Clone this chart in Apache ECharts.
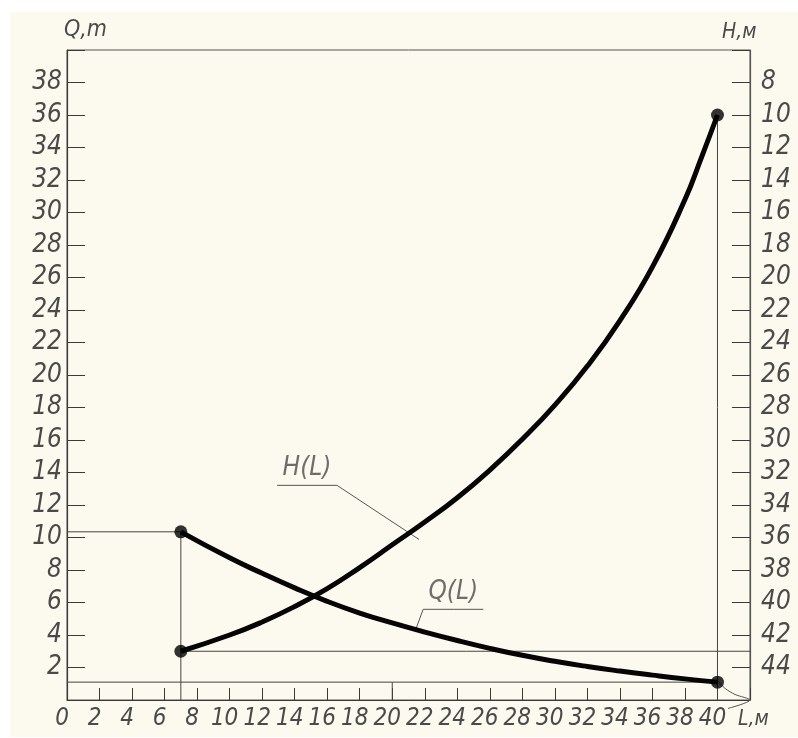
<!DOCTYPE html>
<html><head><meta charset="utf-8">
<script src="https://cdn.jsdelivr.net/npm/echarts@6/dist/echarts.min.js"></script>
<style>
html,body{margin:0;padding:0;background:#fff;}
#bg{position:absolute;left:10px;top:12px;width:788px;height:725px;background:#fcfaee;}
#chart{position:absolute;left:0;top:0;width:798px;height:738px;}
</style></head><body><div id="bg"></div><div id="chart"></div>
<script>
// data
const lH = [7,10,12,14,16,18,20,22,24,26,28,30,32,34,36,38,39,40];
const hValues = [43,42.0,41.2,40.25,39.15,37.85,36.45,35.05,33.55,31.85,29.95,27.85,25.45,22.65,19.35,15.2,12.65,10];
const lQ = [7,10,12,14,16,18,20,22,24,26,28,30,32,34,36,38,40];
const qValues = [10.35,8.75,7.8,6.9,6.07,5.35,4.74,4.18,3.66,3.18,2.75,2.38,2.06,1.78,1.53,1.3,1.1];
const xTickLabels = [0,2,4,6,8,10,12,14,16,18,20,22,24,26,28,30,32,34,36,38,40];
const qTickLabels = [2,4,6,8,10,12,14,16,18,20,22,24,26,28,30,32,34,36,38];
const hTickLabels = [8,10,12,14,16,18,20,22,24,26,28,30,32,34,36,38,40,42,44];
// annotation leader lines (axis units)
const hLabelLeader = [[12.92,13.21],[14.76,13.21],[16.6,13.21],[21.65,9.88]];
const qLabelLeader = [[21.47,4.41],[21.9,5.58],[23.75,5.58],[25.6,5.58]];
const cornerLeader = [[40.04,1.15],[40.47,0.71],[41.08,0.34],[42,0],[40.65,-0.52]];

const FONT = "'Liberation Sans Narrow','DejaVu Sans Condensed',sans-serif";
const TXT = '#4a4a4a';
const AX = '#3a3a3a';
const THIN = '#444';

const zip = (a,b)=>a.map((v,i)=>[v,b[i]]);
const lFirst = lH[0], lLast = lH[lH.length-1];
const hFirst = hValues[0], hLast = hValues[hValues.length-1];
const qFirst = qValues[0], qLast = qValues[qValues.length-1];

function thin(data, yIdx, extra){
  return Object.assign({type:'line', yAxisIndex:yIdx, data:data, symbol:'none', silent:true,
    clip:false, lineStyle:{color:THIN, width:1}, z:3, animation:false}, extra||{});
}
function nameText(text, x, y, size){
  return {type:'text', x:x, y:y, style:{text:text, fontFamily:FONT, fontStyle:'italic', fontSize:size, fill:TXT, verticalAlign:'top', align:'left'}};
}

const chart = echarts.init(document.getElementById('chart'), null, {renderer:'canvas'});
chart.setOption({
  backgroundColor:'transparent',
  animation:false,
  grid:{left:67, right:48, top:50, bottom:38, show:true, borderColor:'#555', borderWidth:1, backgroundColor:'transparent'},
  xAxis:{type:'value', min:0, max:42, interval:2,
    axisLine:{show:true, lineStyle:{color:AX, width:1.2}},
    axisTick:{show:true, inside:true, length:12, lineStyle:{color:AX}},
    splitLine:{show:false},
    axisLabel:{formatter:v=>xTickLabels.includes(v)?String(v):'', fontFamily:FONT, fontStyle:'italic', fontSize:24, color:TXT, margin:7, padding:[0,10,0,0]}
  },
  yAxis:[
    {type:'value', min:0, max:40, interval:2, position:'left',
     axisLine:{show:true, lineStyle:{color:AX, width:1.2}},
     axisTick:{show:true, inside:true, length:18, lineStyle:{color:AX}},
     splitLine:{show:false},
     axisLabel:{formatter:v=>qTickLabels.includes(v)?String(v):'', fontFamily:FONT, fontStyle:'italic', fontSize:26, color:TXT, margin:5}
    },
    {type:'value', min:6, max:46, interval:2, position:'right', inverse:true,
     axisLine:{show:true, lineStyle:{color:'#555', width:1.2}},
     axisTick:{show:true, inside:true, length:18, lineStyle:{color:AX}},
     splitLine:{show:false},
     axisLabel:{formatter:v=>hTickLabels.includes(v)?String(v):'', fontFamily:FONT, fontStyle:'italic', fontSize:26, color:TXT, margin:11}
    }
  ],
  graphic:{elements:[
    nameText('Q,m', 64, 19, 23),
    nameText('H,м', 722, 22, 21),
    nameText('L,м', 738, 709, 21)
  ]},
  series:[
    thin([[0,qFirst],[lFirst,qFirst]],0),
    thin([[lFirst,qFirst],[lFirst,0]],0),
    thin([[lFirst,hFirst],[44.95,hFirst]],1),
    thin([[0,qLast],[lLast,qLast]],0),
    thin([[lLast,hLast],[lLast,46]],1),
    thin([[20,0],[20,qLast]],0),
    thin(cornerLeader,0,{smooth:0.3, lineStyle:{color:'#555', width:1}}),
    thin(hLabelLeader,0,{lineStyle:{color:'#555', width:1}}),
    thin(qLabelLeader,0,{lineStyle:{color:'#555', width:1}}),
    {name:'H(L)', type:'line', yAxisIndex:1, data:zip(lH,hValues), smooth:0.5, showSymbol:false, symbol:'none',
     lineStyle:{color:'#050505', width:5}, z:5, clip:false},
    {name:'Q(L)', type:'line', yAxisIndex:0, data:zip(lQ,qValues), smooth:0.5, showSymbol:false, symbol:'none',
     lineStyle:{color:'#050505', width:5}, z:5, clip:false},
    {type:'scatter', yAxisIndex:1, data:[[lFirst,hFirst],[lLast,hLast]], symbolSize:13, itemStyle:{color:'#000'}, z:6},
    {type:'scatter', yAxisIndex:0, data:[[lQ[0],qFirst],[lQ[lQ.length-1],qLast]], symbolSize:13, itemStyle:{color:'#000'}, z:6},
    {name:'H(L)', type:'scatter', yAxisIndex:0, data:[hLabelLeader[1]], symbolSize:1, itemStyle:{color:'transparent'},
     label:{show:true, position:'top', distance:4, formatter:'{a}', fontFamily:FONT, fontStyle:'italic', fontSize:26, color:TXT}, z:6},
    {name:'Q(L)', type:'scatter', yAxisIndex:0, data:[qLabelLeader[2]], symbolSize:1, itemStyle:{color:'transparent'},
     label:{show:true, position:'top', distance:4, formatter:'{a}', fontFamily:FONT, fontStyle:'italic', fontSize:26, color:TXT}, z:6}
  ]
});
</script></body></html>
